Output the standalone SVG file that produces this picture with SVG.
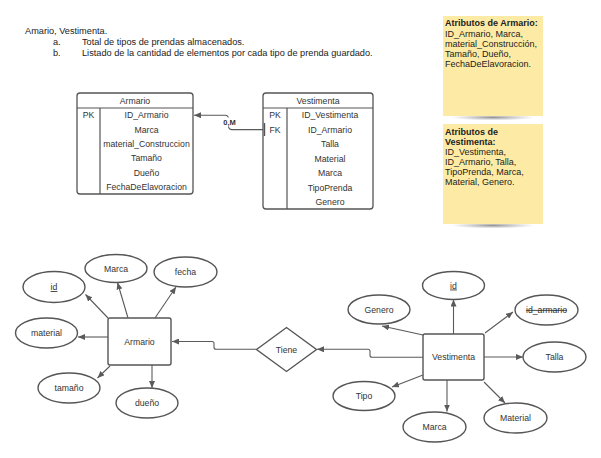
<svg xmlns="http://www.w3.org/2000/svg" width="601" height="458" viewBox="0 0 601 458">
<style>
text{font-family:"Liberation Sans",Arial,sans-serif;fill:#333}
.top{font-size:9.2px;fill:#222}
.tb{font-size:8.7px;text-anchor:middle}
.tbox{fill:#fff;stroke:#555;stroke-width:1.3}
.div{stroke:#555;stroke-width:1.2;fill:none}
.note{fill:#FDEBA5}
.nt{font-size:9px;fill:#222}
.nb{font-weight:bold}
.shape{fill:#fff;stroke:#555;stroke-width:1.4}
.lbl{font-size:8.7px;text-anchor:middle}
.con{fill:none;stroke:#5a5a5a;stroke-width:1.1}
</style>
<defs>
<marker id="arr" markerWidth="8" markerHeight="6" refX="7" refY="3" orient="auto" markerUnits="userSpaceOnUse">
<path d="M0,0 L7,3 L0,6 z" fill="#5a5a5a"/>
</marker>
<radialGradient id="sh" cx="0.5" cy="0.5" r="0.5">
<stop offset="0" stop-color="#777" stop-opacity="0.8"/>
<stop offset="1" stop-color="#999" stop-opacity="0"/>
</radialGradient>
</defs>
<rect width="601" height="458" fill="#fff"/>

<g id="header-text">
<text class="top" x="25" y="34">Amario, Vestimenta.</text>
<text class="top" x="53" y="45">a.</text>
<text class="top" x="82" y="45">Total de tipos de prendas almacenados.</text>
<text class="top" x="53" y="55.6">b.</text>
<text class="top" x="82" y="55.6">Listado de la cantidad de elementos por cada tipo de prenda guardado.</text>
</g>

<g id="note-armario">
<ellipse cx="493" cy="117.5" rx="42" ry="3" fill="url(#sh)"/>
<rect class="note" x="443" y="16" width="100" height="100"/>
<text class="nt nb" x="445" y="26">Atributos de Armario:</text>
<text class="nt" x="445" y="36.5">ID_Armario, Marca,</text>
<text class="nt" x="445" y="46.5">material_Construcción,</text>
<text class="nt" x="445" y="56.5">Tamaño, Dueño,</text>
<text class="nt" x="445" y="66.5">FechaDeElavoracion.</text>
</g>

<g id="note-vestimenta">
<ellipse cx="493" cy="225.5" rx="42" ry="3" fill="url(#sh)"/>
<rect class="note" x="443" y="124" width="100" height="100"/>
<text class="nt nb" x="445" y="135">Atributos de</text>
<text class="nt nb" x="445" y="144.5">Vestimenta:</text>
<text class="nt" x="445" y="155">ID_Vestimenta,</text>
<text class="nt" x="445" y="165">ID_Armario, Talla,</text>
<text class="nt" x="445" y="175">TipoPrenda, Marca,</text>
<text class="nt" x="445" y="185">Material, Genero.</text>
</g>

<g id="table-armario">
<rect class="tbox" x="77" y="93" width="116" height="101" rx="3"/>
<path class="div" d="M77,108 H193 M100,108 V194"/>
<text class="tb" x="135" y="103.5">Armario</text>
<text class="tb" x="88.5" y="118.3">PK</text>
<text class="tb" x="146.5" y="118.3">ID_Armario</text>
<text class="tb" x="146.5" y="132.6">Marca</text>
<text class="tb" x="146.5" y="146.9">material_Construccion</text>
<text class="tb" x="146.5" y="161.3">Tamaño</text>
<text class="tb" x="146.5" y="175.6">Dueño</text>
<text class="tb" x="146.5" y="189.9">FechaDeElavoracion</text>
</g>

<g id="table-vestimenta">
<rect class="tbox" x="263" y="93" width="110" height="116" rx="3"/>
<path class="div" d="M263,108 H373 M287,108 V209"/>
<text class="tb" x="318" y="103.5">Vestimenta</text>
<text class="tb" x="275" y="118.3">PK</text>
<text class="tb" x="275" y="132.7">FK</text>
<text class="tb" x="330" y="118.3">ID_Vestimenta</text>
<text class="tb" x="330" y="132.7">ID_Armario</text>
<text class="tb" x="330" y="147.2">Talla</text>
<text class="tb" x="330" y="161.6">Material</text>
<text class="tb" x="330" y="176.1">Marca</text>
<text class="tb" x="330" y="190.5">TipoPrenda</text>
<text class="tb" x="330" y="205">Genero</text>
</g>

<g id="er-armario">
<rect class="shape" x="108" y="318" width="63" height="47" rx="2"/>
<text class="lbl" x="139.5" y="344.5">Armario</text>
</g>
<g id="attr-a-id">
<ellipse class="shape" cx="54" cy="287" rx="31" ry="15.5"/>
<text class="lbl" x="54" y="290" text-decoration="underline">id</text>
</g>
<g id="attr-a-marca">
<ellipse class="shape" cx="116" cy="268.5" rx="31" ry="14"/>
<text class="lbl" x="116" y="271.5">Marca</text>
</g>
<g id="attr-a-fecha">
<ellipse class="shape" cx="185.5" cy="272" rx="31.5" ry="15"/>
<text class="lbl" x="185.5" y="275">fecha</text>
</g>
<g id="attr-a-material">
<ellipse class="shape" cx="46.5" cy="333" rx="31" ry="15"/>
<text class="lbl" x="46.5" y="336">material</text>
</g>
<g id="attr-a-tamano">
<ellipse class="shape" cx="69" cy="388" rx="31" ry="15"/>
<text class="lbl" x="69" y="391">tamaño</text>
</g>
<g id="attr-a-dueno">
<ellipse class="shape" cx="147" cy="403" rx="31" ry="15"/>
<text class="lbl" x="147" y="406">dueño</text>
</g>

<g id="rel-tiene">
<polygon class="shape" points="256.5,349.5 286.5,327.5 316.5,349.5 286.5,371.5"/>
<text class="lbl" x="286.5" y="352.5">Tiene</text>
</g>

<g id="er-vestimenta">
<rect class="shape" x="423" y="334" width="61" height="46" rx="2"/>
<text class="lbl" x="453.5" y="360">Vestimenta</text>
</g>
<g id="attr-v-id">
<ellipse class="shape" cx="453.5" cy="285.5" rx="31" ry="14"/>
<text class="lbl" x="453.5" y="288.5" text-decoration="underline">id</text>
</g>
<g id="attr-v-genero">
<ellipse class="shape" cx="379" cy="309.5" rx="31" ry="14.5"/>
<text class="lbl" x="379" y="312.5">Genero</text>
</g>
<g id="attr-v-idarmario">
<ellipse class="shape" cx="546.5" cy="310" rx="31.5" ry="15"/>
<text class="lbl" x="546.5" y="313" text-decoration="line-through">id_armario</text>
</g>
<g id="attr-v-talla">
<ellipse class="shape" cx="554.5" cy="357" rx="31.5" ry="15"/>
<text class="lbl" x="554.5" y="360">Talla</text>
</g>
<g id="attr-v-tipo">
<ellipse class="shape" cx="364" cy="396" rx="31" ry="14.5"/>
<text class="lbl" x="364" y="399">Tipo</text>
</g>
<g id="attr-v-marca">
<ellipse class="shape" cx="434.5" cy="427" rx="31.5" ry="15"/>
<text class="lbl" x="434.5" y="430">Marca</text>
</g>
<g id="attr-v-material">
<ellipse class="shape" cx="515.5" cy="418" rx="31.5" ry="15"/>
<text class="lbl" x="515.5" y="421">Material</text>
</g>

<g id="connectors">
<path class="con" d="M263,129.6 H232 Q228.5,129.6 228.5,126 V119 Q228.5,115.2 225,115.2 H194" marker-end="url(#arr)"/>
<line x1="264.5" y1="123" x2="264.5" y2="136" stroke="#555" stroke-width="1.4"/>
<rect x="221" y="117.5" width="17" height="9" fill="#fff"/>
<text x="229.5" y="125" font-size="7.5" font-weight="bold" text-anchor="middle" style="fill:#333">0,M</text>

<path class="con" d="M108,318 L85.5,294.5" marker-end="url(#arr)"/>
<path class="con" d="M128,318 L117.5,282.5" marker-end="url(#arr)"/>
<path class="con" d="M155,318 L176,287" marker-end="url(#arr)"/>
<path class="con" d="M108,337 H78" marker-end="url(#arr)"/>
<path class="con" d="M110,366 L97.5,378" marker-end="url(#arr)"/>
<path class="con" d="M152,365 V388" marker-end="url(#arr)"/>
<path class="con" d="M256.5,349.3 H216 Q214,349.3 214,347.3 V343.5 Q214,341.5 212,341.5 H172" marker-end="url(#arr)"/>
<path class="con" d="M423,357.3 H372 Q370,357.3 370,355.3 V351.3 Q370,349.3 368,349.3 H317" marker-end="url(#arr)"/>

<path class="con" d="M453.5,334 V299.5" marker-end="url(#arr)"/>
<path class="con" d="M423,335 L382,326" marker-end="url(#arr)"/>
<path class="con" d="M485,333 L513,312" marker-end="url(#arr)"/>
<path class="con" d="M484,357 H523" marker-end="url(#arr)"/>
<path class="con" d="M423,375 L392,387" marker-end="url(#arr)"/>
<path class="con" d="M447,380 V411.5" marker-end="url(#arr)"/>
<path class="con" d="M484,382 L505,403" marker-end="url(#arr)"/>
</g>
</svg>
